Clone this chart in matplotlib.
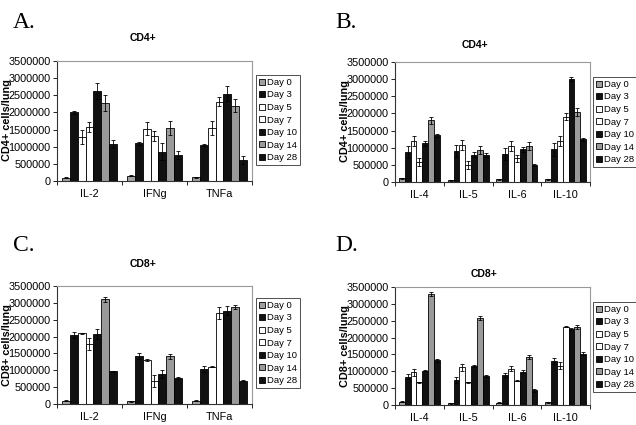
import numpy as np
import matplotlib.pyplot as plt
from matplotlib.ticker import FuncFormatter

plt.rcParams['font.family'] = ['Liberation Sans', 'DejaVu Sans']

W, H = 636, 425

days = ['Day 0', 'Day 3', 'Day 5', 'Day 7', 'Day 10', 'Day 14', 'Day 28']
colors = ['#a0a0a0', '#111111', 'white', 'white', '#111111', '#9a9a9a', '#111111']

# panel A - CD4+, Th1 cytokines
a_cats = ['IL-2', 'IFNg', 'TNFa']
a_vals = [[100000, 150000, 110000],
          [2000000, 1100000, 1050000],
          [1280000, 1530000, 1540000],
          [1570000, 1310000, 2310000],
          [2620000, 850000, 2550000],
          [2270000, 1540000, 2200000],
          [1080000, 750000, 610000]]
a_err = [[15000, 15000, 10000],
         [50000, 40000, 40000],
         [200000, 200000, 200000],
         [140000, 150000, 130000],
         [230000, 250000, 220000],
         [230000, 200000, 200000],
         [110000, 120000, 110000]]

# panel B - CD4+, Th2 cytokines
b_cats = ['IL-4', 'IL-5', 'IL-6', 'IL-10']
b_vals = [[110000, 50000, 80000, 80000],
          [870000, 910000, 810000, 950000],
          [1200000, 1080000, 1050000, 1200000],
          [580000, 500000, 690000, 1900000],
          [1130000, 800000, 950000, 3000000],
          [1800000, 940000, 1060000, 2040000],
          [1360000, 790000, 490000, 1240000]]
b_err = [[10000, 10000, 10000, 10000],
         [180000, 170000, 180000, 180000],
         [150000, 150000, 150000, 150000],
         [120000, 110000, 100000, 100000],
         [70000, 70000, 70000, 50000],
         [100000, 110000, 120000, 110000],
         [50000, 60000, 30000, 50000]]

# panel C - CD8+, Th1 cytokines
c_cats = ['IL-2', 'IFNg', 'TNFa']
c_vals = [[100000, 80000, 90000],
          [2050000, 1430000, 1040000],
          [2100000, 1310000, 1110000],
          [1780000, 670000, 2690000],
          [2070000, 890000, 2770000],
          [3100000, 1410000, 2870000],
          [970000, 765000, 690000]]
c_err = [[15000, 15000, 15000],
         [100000, 90000, 100000],
         [20000, 20000, 10000],
         [180000, 180000, 180000],
         [140000, 130000, 130000],
         [80000, 80000, 60000],
         [20000, 30000, 20000]]

# panel D - CD8+, Th2 cytokines
d_cats = ['IL-4', 'IL-5', 'IL-6', 'IL-10']
d_vals = [[100000, 50000, 70000, 80000],
          [840000, 745000, 900000, 1300000],
          [970000, 1120000, 1080000, 1170000],
          [670000, 670000, 716000, 2320000],
          [1020000, 1170000, 990000, 2260000],
          [3290000, 2590000, 1420000, 2300000],
          [1320000, 850000, 440000, 1520000]]
d_err = [[10000, 10000, 10000, 10000],
         [70000, 80000, 60000, 80000],
         [100000, 100000, 80000, 100000],
         [15000, 10000, 15000, 15000],
         [20000, 30000, 40000, 30000],
         [50000, 60000, 60000, 60000],
         [30000, 30000, 40000, 50000]]


def px_rect(l, t, r, b):
    return [l / W, 1 - b / H, (r - l) / W, (b - t) / H]


def panel(rect, cats, vals, err, leg_xy):
    ax = fig.add_axes(px_rect(*rect))
    n = len(cats)
    w = 0.12
    x = np.arange(n) + 0.5
    for j in range(len(days)):
        ax.bar(x + (j - 3) * w, vals[j], w, color=colors[j], edgecolor='black',
               linewidth=0.6, label=days[j], zorder=2)
        ax.errorbar(x + (j - 3) * w, vals[j], yerr=err[j], fmt='none',
                    ecolor='black', elinewidth=0.6, capsize=1.5, capthick=0.6, zorder=3)
    ax.set_xlim(0, n)
    ax.set_ylim(0, 3500000)
    ax.set_yticks(np.arange(0, 3500001, 500000))
    ax.yaxis.set_major_formatter(FuncFormatter(lambda v, p: '%d' % v))
    ax.set_xticks(np.arange(0, n + 1))
    ax.set_xticklabels([])
    ax.set_xticks(x, minor=True)
    ax.set_xticklabels(cats, minor=True)
    ax.tick_params(axis='x', which='major', length=3, width=0.6, direction='out')
    ax.tick_params(axis='x', which='minor', length=0, pad=6, labelsize=7.8)
    ax.tick_params(axis='y', length=3, width=0.6, direction='out', pad=1.5, labelsize=7.8)
    for s in ['top', 'right']:
        ax.spines[s].set_color('#999999')
        ax.spines[s].set_linewidth(0.8)
    for s in ['left', 'bottom']:
        ax.spines[s].set_color('#333333')
        ax.spines[s].set_linewidth(0.8)
    leg = ax.legend(loc='upper left', bbox_to_anchor=(leg_xy[0] / W, 1 - leg_xy[1] / H),
                    bbox_transform=fig.transFigure, fontsize=6.8, frameon=True,
                    fancybox=False, edgecolor='black', handlelength=0.6, handleheight=0.6,
                    handletextpad=0.25, borderpad=0.3, borderaxespad=0, labelspacing=0.38)
    leg.get_frame().set_linewidth(0.6)
    return ax


fig = plt.figure(figsize=(W / 100, H / 100), dpi=100)

panel((57, 61, 252, 181), a_cats, a_vals, a_err, (256, 75))
panel((395, 62, 590, 182), b_cats, b_vals, b_err, (593, 77))
panel((57, 286, 252, 404), c_cats, c_vals, c_err, (256, 298))
panel((395, 287, 590, 405), d_cats, d_vals, d_err, (593, 302))

for lab, lx, ly in [('A.', 13, 28), ('B.', 335, 28), ('C.', 13, 251), ('D.', 335, 251)]:
    fig.text(lx / W, 1 - ly / H, lab, family='Liberation Serif', fontsize=17, va='baseline')

for t, tx, ty in [('CD4+', 143, 38), ('CD4+', 475, 45), ('CD8+', 143, 264), ('CD8+', 484, 274)]:
    fig.text(tx / W, 1 - ty / H, t, fontsize=7.5, fontweight='bold', ha='center', va='center')

for t, tx, ty in [('CD4+ cells/lung', 7, 120), ('CD4+ cells/lung', 345, 121),
                  ('CD8+ cells/lung', 7, 345), ('CD8+ cells/lung', 345, 346)]:
    fig.text(tx / W, 1 - ty / H, t, fontsize=7.8, fontweight='bold', rotation=90,
             ha='center', va='center')

fig.savefig('out.png', dpi=100)
